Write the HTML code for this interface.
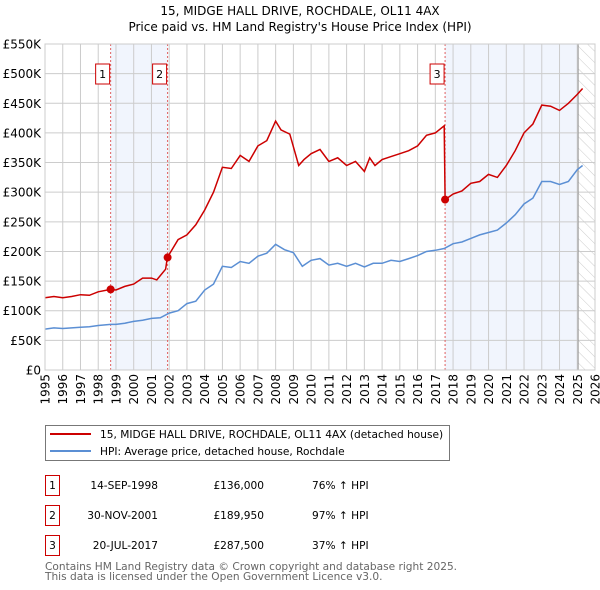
<!DOCTYPE html>
<html><head><meta charset="utf-8">
<style>
body{margin:0;background:#fff;font-family:"DejaVu Sans","Liberation Sans",sans-serif;}
#wrap{position:relative;width:600px;height:590px;overflow:hidden;}
svg text{font-family:"DejaVu Sans","Liberation Sans",sans-serif;}
</style></head><body>
<div id="wrap">
<svg id="chart" width="600" height="590"></svg>
</div>
<script>
const yTicks=[0,50,100,150,200,250,300,350,400,450,500,550];
const yLabels=["£0","£50K","£100K","£150K","£200K","£250K","£300K","£350K","£400K","£450K","£500K","£550K"];
const xYears=[1995,1996,1997,1998,1999,2000,2001,2002,2003,2004,2005,2006,2007,2008,2009,2010,2011,2012,2013,2014,2015,2016,2017,2018,2019,2020,2021,2022,2023,2024,2025,2026];
const hpiT=[1995,1995.5,1996,1996.5,1997,1997.5,1998,1998.7,1999,1999.5,2000,2000.5,2001,2001.5,2002,2002.5,2003,2003.5,2004,2004.5,2005,2005.5,2006,2006.5,2007,2007.5,2008,2008.5,2009,2009.5,2010,2010.5,2011,2011.5,2012,2012.5,2013,2013.5,2014,2014.5,2015,2015.5,2016,2016.5,2017,2017.5,2018,2018.5,2019,2019.5,2020,2020.5,2021,2021.5,2022,2022.5,2023,2023.5,2024,2024.5,2025,2025.3];
const hpiV=[69,71,70,71,72,73,75,77,77,79,82,84,87,88,96,100,112,116,135,145,175,173,183,180,192,197,212,203,198,175,185,188,177,180,175,180,174,180,180,185,183,188,193,200,202,205,213,216,222,228,232,236,248,262,280,290,318,318,313,318,338,345];
const paidT=[1995,1995.5,1996,1996.5,1997,1997.5,1998,1998.7,1999,1999.5,2000,2000.5,2001,2001.3,2001.8,2001.9,2002,2002.5,2003,2003.5,2004,2004.5,2005,2005.5,2006,2006.5,2007,2007.5,2008,2008.3,2008.8,2009.3,2009.6,2010,2010.5,2011,2011.5,2012,2012.5,2013,2013.3,2013.6,2014,2014.5,2015,2015.5,2016,2016.5,2017,2017.5,2017.55,2018,2018.5,2019,2019.5,2020,2020.5,2021,2021.5,2022,2022.5,2023,2023.5,2024,2024.5,2025,2025.3];
const paidV=[122,124,122,124,127,126,132,136,135,141,145,155,155,152,170,190,195,220,228,245,270,300,342,340,362,352,378,387,420,405,398,345,355,365,372,352,358,345,352,335,358,345,355,360,365,370,378,396,400,412,287.5,297,302,315,318,330,325,345,370,400,415,447,445,438,450,465,475];
const saleT=[1998.7,2001.91,2017.55];
const saleV=[136,189.95,287.5];
const saleLbl=["1","2","3"];

const NS="http://www.w3.org/2000/svg";
const svg=document.getElementById('chart');
const L=45,R=595,T=44,B=370;
const xs=t=>L+(t-1995)/31*(R-L);
const ys=v=>B-v/550*(B-T);
function mk(tag,attrs,parent){const e=document.createElementNS(NS,tag);for(const k in attrs)e.setAttribute(k,attrs[k]);(parent||svg).appendChild(e);return e;}

let e;
e=mk('text',{x:300,y:15,'text-anchor':'middle','font-size':12,fill:'#000'});e.textContent="15, MIDGE HALL DRIVE, ROCHDALE, OL11 4AX";


e=mk('text',{x:300,y:31,'text-anchor':'middle','font-size':12,fill:'#000'});e.textContent="Price paid vs. HM Land Registry's House Price Index (HPI)";



e=mk('rect',{x:xs(saleT[0]),y:T,width:xs(saleT[1])-xs(saleT[0]),height:B-T,fill:'#eef3fc',opacity:0.8});


e=mk('rect',{x:xs(saleT[2]),y:T,width:xs(2025.05)-xs(saleT[2]),height:B-T,fill:'#eef3fc',opacity:0.8});


const defs=mk('defs',{});
const pat=mk('pattern',{id:'hatch',width:8,height:8,patternUnits:'userSpaceOnUse',patternTransform:'rotate(-45)'},defs);
mk('line',{x1:0,y1:0,x2:0,y2:8,stroke:'#ccc','stroke-width':1},pat);
e=mk('rect',{x:xs(2025.05),y:T,width:R-xs(2025.05),height:B-T,fill:'url(#hatch)'});



yTicks.forEach((v,i)=>{
  e=mk('line',{x1:L,x2:R,y1:ys(v),y2:ys(v),stroke:'#cccccc','stroke-width':1});
  
  
  e=mk('text',{x:L-4,y:ys(v)+4.5,'text-anchor':'end','font-size':12,fill:'#000'});e.textContent=yLabels[i];
  
  
});
xYears.forEach(yr=>{
  e=mk('line',{x1:xs(yr),x2:xs(yr),y1:T,y2:B,stroke:'#cccccc','stroke-width':1});
  
  
  e=mk('text',{transform:`translate(${xs(yr)+4.5},${B+4}) rotate(-90)`,'text-anchor':'end','font-size':12,fill:'#000'});e.textContent=yr;
  
  
});
e=mk('line',{x1:xs(2025.05),x2:xs(2025.05),y1:T,y2:B,stroke:'#999','stroke-width':1});



saleT.forEach((t,i)=>{
  e=mk('line',{x1:xs(t),x2:xs(t),y1:T,y2:B,stroke:'#e06060','stroke-width':1,'stroke-dasharray':'2,2'});
  
  
});

function path(ts,vs){return ts.map((t,i)=>(i?'L':'M')+xs(t).toFixed(1)+','+ys(vs[i]).toFixed(1)).join('');}
e=mk('path',{d:path(hpiT,hpiV),fill:'none',stroke:'#5b8fd4','stroke-width':1.5});


e=mk('path',{d:path(paidT,paidV),fill:'none',stroke:'#cc0000','stroke-width':1.5});



saleT.forEach((t,i)=>{
  e=mk('circle',{cx:xs(t),cy:ys(saleV[i]),r:4,fill:'#cc0000'});
  
  
  const bx=xs(t)-15;
  e=mk('rect',{x:bx,y:64,width:14,height:20,fill:'#fff',stroke:'#cc0000','stroke-width':1});
  
  
  e=mk('text',{x:bx+7,y:78,'text-anchor':'middle','font-size':11,fill:'#000'});e.textContent=saleLbl[i];
  
  
});
e=mk('rect',{x:L,y:T,width:R-L,height:B-T,fill:'none',stroke:'#cccccc'});



const lg=mk('g',{});


mk('rect',{x:45.5,y:425.5,width:404,height:35,fill:'#fff',stroke:'#777'},lg);
e=mk('line',{x1:50,x2:91,y1:434,y2:434,stroke:'#cc0000','stroke-width':2},lg);


e=mk('text',{x:100,y:438,'font-size':10.6,fill:'#000'},lg);e.textContent="15, MIDGE HALL DRIVE, ROCHDALE, OL11 4AX (detached house)";


e=mk('line',{x1:50,x2:91,y1:451,y2:451,stroke:'#5b8fd4','stroke-width':2},lg);


e=mk('text',{x:100,y:455,'font-size':10.6,fill:'#000'},lg);e.textContent="HPI: Average price, detached house, Rochdale";



const rows=[["1","14-SEP-1998","£136,000","76% ↑ HPI"],["2","30-NOV-2001","£189,950","97% ↑ HPI"],["3","20-JUL-2017","£287,500","37% ↑ HPI"]];
rows.forEach((r,i)=>{
  const y=483+i*30;
  e=mk('rect',{x:45.5,y:y-7.5,width:14,height:20,fill:'none',stroke:'#cc0000'});
  
  
  e=mk('text',{x:52.5,y:y+6,'text-anchor':'middle','font-size':10.6,fill:'#000'});e.textContent=r[0];
  
  
  e=mk('text',{x:158,y:y+6,'text-anchor':'end','font-size':10.6,fill:'#000'});e.textContent=r[1];
  
  
  e=mk('text',{x:264,y:y+6,'text-anchor':'end','font-size':10.6,fill:'#000'});e.textContent=r[2];
  
  
  e=mk('text',{x:312,y:y+6,'font-size':10.6,fill:'#000'});e.textContent=r[3];
  
  
});
e=mk('text',{x:45,y:570,'font-size':10.6,fill:'#666'});e.textContent="Contains HM Land Registry data © Crown copyright and database right 2025.";


e=mk('text',{x:45,y:580,'font-size':10.6,fill:'#666'});e.textContent="This data is licensed under the Open Government Licence v3.0.";


</script>
</body></html>
